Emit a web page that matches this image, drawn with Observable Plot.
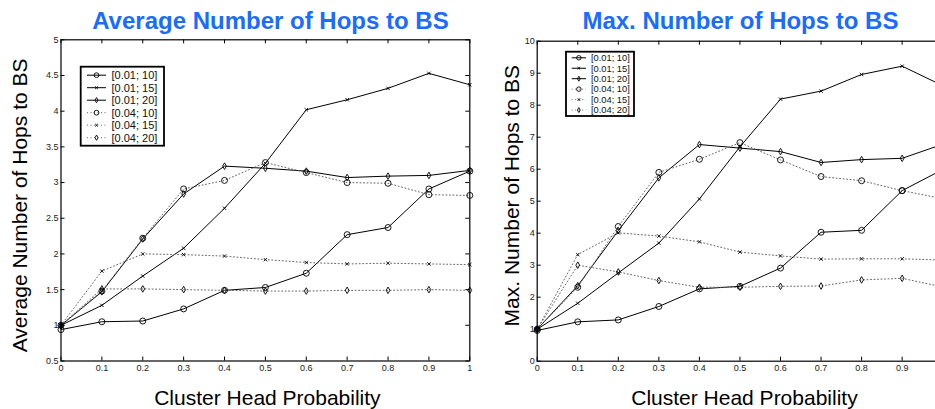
<!DOCTYPE html>
<html><head><meta charset="utf-8">
<script src="https://cdn.jsdelivr.net/npm/d3@7"></script>
<script src="https://cdn.jsdelivr.net/npm/@observablehq/plot@0.6"></script>
<style>
html,body{margin:0;padding:0;background:#fff;overflow:hidden;}
#wrap{position:relative;width:935px;height:409px;overflow:hidden;background:#fff;}
#left,#right{position:absolute;top:0;}
#left{left:0;width:480px;}
#right{left:480px;width:475px;}
#wrap svg{max-width:none !important;}
</style></head>
<body><div id="wrap"><div id="left"></div><div id="right"></div></div>
<script>
// ---------- data ----------
const clusterHeadProb = [0, 0.1, 0.2, 0.3, 0.4, 0.5, 0.6, 0.7, 0.8, 0.9, 1];
const seriesLabels = ["[0.01; 10]", "[0.01; 15]", "[0.01; 20]", "[0.04; 10]", "[0.04; 15]", "[0.04; 20]"];

// Average number of hops to BS
const avg_001_10 = [0.94, 1.05, 1.06, 1.23, 1.49, 1.53, 1.73, 2.27, 2.37, 2.91, 3.16];
const avg_001_15 = [1.00, 1.28, 1.69, 2.08, 2.64, 3.27, 4.02, 4.16, 4.32, 4.53, 4.37];
const avg_001_20 = [1.00, 1.47, 2.21, 2.84, 3.23, 3.20, 3.16, 3.07, 3.09, 3.10, 3.17];
const avg_004_10 = [1.00, 1.48, 2.22, 2.91, 3.03, 3.28, 3.14, 3.00, 2.99, 2.83, 2.82];
const avg_004_15 = [1.00, 1.76, 2.00, 1.99, 1.97, 1.92, 1.88, 1.86, 1.87, 1.86, 1.85];
const avg_004_20 = [1.00, 1.51, 1.51, 1.50, 1.49, 1.48, 1.48, 1.49, 1.49, 1.50, 1.49];

// Max. number of hops to BS
const max_001_10 = [0.96, 1.23, 1.29, 1.71, 2.26, 2.34, 2.91, 4.03, 4.09, 5.33, 5.99];
const max_001_15 = [1.00, 1.81, 2.76, 3.69, 5.07, 6.70, 8.19, 8.44, 8.96, 9.22, 8.61];
const max_001_20 = [1.00, 2.36, 4.08, 5.73, 6.77, 6.66, 6.55, 6.21, 6.30, 6.34, 6.78];
const max_004_10 = [1.00, 2.31, 4.21, 5.90, 6.31, 6.83, 6.29, 5.77, 5.64, 5.33, 5.08];
const max_004_15 = [1.00, 3.33, 4.01, 3.91, 3.73, 3.41, 3.29, 3.19, 3.20, 3.20, 3.16];
const max_004_20 = [1.00, 3.00, 2.79, 2.52, 2.31, 2.31, 2.34, 2.35, 2.54, 2.59, 2.32];

const xTicks = [0, 0.1, 0.2, 0.3, 0.4, 0.5, 0.6, 0.7, 0.8, 0.9, 1];
const yTicksAvg = [0.5, 1, 1.5, 2, 2.5, 3, 3.5, 4, 4.5, 5];
const yTicksMax = [0, 1, 2, 3, 4, 5, 6, 7, 8, 9, 10];

const titleAvg = "Average Number of Hops to BS";
const titleMax = "Max. Number of Hops to BS";
const xLabel = "Cluster Head Probability";

// ---------- styles ----------
const FONT = "'Liberation Sans', Arial, Helvetica, sans-serif";
const BLUE = "#1a6bff";
const seriesSymbol = ["circle", "times", "diamond", "circle", "times", "diamond"];
const seriesDotted = [false, false, false, true, true, true];
const symbolR = {circle: 3, times: 1.7, diamond: 2};
const d3Sym = {circle: d3.symbolCircle, times: d3.symbolTimes, diamond: d3.symbolDiamond};

function toPoints(vals) { return clusterHeadProb.map((x, i) => ({x, y: vals[i]})); }

function chart(cfg) {
  const H = cfg.height - cfg.mt - cfg.mb;
  const W = cfg.width - cfg.ml - cfg.mr;
  const marks = [];
  // tick marks (inward, all four sides)
  marks.push(Plot.tickX(xTicks, {x: d => d, insetTop: H - 4, stroke: "black"}));
  marks.push(Plot.tickX(xTicks, {x: d => d, insetBottom: H - 4, stroke: "black"}));
  marks.push(Plot.tickY(cfg.yTicks, {y: d => d, insetRight: W - 4, stroke: "black"}));
  marks.push(Plot.tickY(cfg.yTicks, {y: d => d, insetLeft: W - 4, stroke: "black"}));
  // tick labels
  marks.push(Plot.axisX({ticks: xTicks, tickSize: 0, tickPadding: 3.5, tickFormat: d => String(d), fontSize: 9, fill: "#222", label: null}));
  marks.push(Plot.axisY({ticks: cfg.yTicks, tickSize: 0, tickPadding: 2.5, tickFormat: d => String(d), fontSize: 9, fill: "#222", label: null}));
  // series
  cfg.series.forEach((vals, i) => {
    const pts = toPoints(vals);
    marks.push(Plot.line(pts, {
      x: "x", y: "y",
      stroke: seriesDotted[i] ? "#666" : "black",
      strokeWidth: 1,
      strokeDasharray: seriesDotted[i] ? "1,2.5" : null
    }));
  });
  cfg.series.forEach((vals, i) => {
    const pts = toPoints(vals);
    const s = seriesSymbol[i];
    marks.push(Plot.dot(pts, {x: "x", y: "y", symbol: s, r: symbolR[s], stroke: "black", fill: "none", strokeWidth: 0.9}));
  });
  marks.push(Plot.frame({stroke: "black", strokeWidth: 1.2}));
  // titles and axis labels
  marks.push(Plot.text([cfg.title], {text: d => d, frameAnchor: "top", textAnchor: "middle", lineAnchor: "bottom", dy: cfg.titleDy, dx: cfg.titleDx, fontSize: 24, fontWeight: "bold", fill: BLUE}));
  marks.push(Plot.text([cfg.yLabel], {text: d => d, frameAnchor: "left", textAnchor: "middle", lineAnchor: "middle", rotate: -90, dx: cfg.yLabelDx, dy: cfg.yLabelDy, fontSize: 21, fill: "black"}));
  marks.push(Plot.text([xLabel], {text: d => d, frameAnchor: "bottom", textAnchor: "middle", lineAnchor: "bottom", dy: cfg.xLabelDy, dx: cfg.xLabelDx, fontSize: 21, fill: "black"}));

  const svg = Plot.plot({
    width: cfg.width, height: cfg.height,
    marginLeft: cfg.ml, marginRight: cfg.mr, marginTop: cfg.mt, marginBottom: cfg.mb,
    x: {domain: [0, 1]},
    y: {domain: cfg.yDomain},
    style: {fontFamily: FONT, background: "white", color: "black", maxWidth: "none"},
    marks
  });

  // legend
  const L = cfg.legend;
  const g = d3.select(svg).append("g").attr("font-family", FONT).attr("text-anchor", "start");
  g.append("rect").attr("x", L.x).attr("y", L.y).attr("width", L.w).attr("height", L.h)
    .attr("fill", "white").attr("stroke", "black").attr("stroke-width", 1.8);
  seriesLabels.forEach((lab, i) => {
    const yy = L.y0 + i * L.dy;
    g.append("line").attr("x1", L.lx1).attr("x2", L.lx2).attr("y1", yy).attr("y2", yy)
      .attr("stroke", seriesDotted[i] ? "#666" : "black").attr("stroke-width", 1)
      .attr("stroke-dasharray", seriesDotted[i] ? "1,2.5" : null);
    const s = seriesSymbol[i];
    const rr = symbolR[s] * L.mscale;
    g.append("path").attr("d", d3.symbol(d3Sym[s], Math.PI * rr * rr)())
      .attr("transform", `translate(${(L.lx1 + L.lx2) / 2},${yy})`)
      .attr("fill", "none").attr("stroke", "black").attr("stroke-width", 0.9);
    g.append("text").attr("x", L.tx).attr("y", yy).attr("dy", "0.35em")
      .attr("text-anchor", "start")
      .attr("font-size", L.fs).attr("fill", "#111").text(lab);
  });
  return svg;
}

document.getElementById("left").appendChild(chart({
  width: 480, height: 409, ml: 60.5, mr: 10.7, mt: 39.3, mb: 48.5,
  yDomain: [0.5, 5], yTicks: yTicksAvg,
  series: [avg_001_10, avg_001_15, avg_001_20, avg_004_10, avg_004_15, avg_004_20],
  title: titleAvg, titleDy: -11.3, titleDx: 5,
  yLabel: titleAvg, yLabelDx: -40.5, yLabelDy: 5,
  xLabelDy: 43.5, xLabelDx: 2,
  legend: {x: 80.7, y: 66.7, w: 83.3, h: 79, y0: 75.2, dy: 12.5, lx1: 87, lx2: 106, tx: 111.5, fs: 11, mscale: 0.8}
}));

document.getElementById("right").appendChild(chart({
  width: 475, height: 409, ml: 56.7, mr: 12.8, mt: 40.7, mb: 48.3,
  yDomain: [0, 10], yTicks: yTicksMax,
  series: [max_001_10, max_001_15, max_001_20, max_004_10, max_004_15, max_004_20],
  title: titleMax, titleDy: -12.7, titleDx: 0.5,
  yLabel: titleMax, yLabelDx: -24.7, yLabelDy: -5.5,
  xLabelDy: 43.5, xLabelDx: 4.5,
  legend: {x: 86, y: 51.7, w: 68, h: 64.3, y0: 57.8, dy: 10.45, lx1: 91.7, lx2: 106, tx: 111, fs: 9.3, mscale: 0.75}
}));
</script>
</body></html>
